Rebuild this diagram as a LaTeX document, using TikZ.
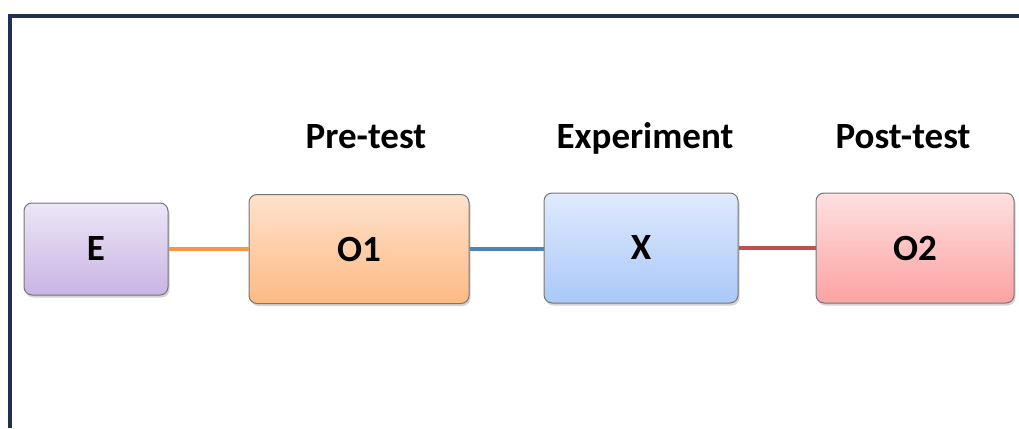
\documentclass[tikz,border=0pt]{standalone}
\usepackage{fontspec}
\setmainfont{Carlito}
\usetikzlibrary{shadows}
\definecolor{frame}{HTML}{1F3050}
\definecolor{edgegray}{HTML}{767676}
\definecolor{corange}{HTML}{F79646}
\definecolor{cblue}{HTML}{4F81BD}
\definecolor{cred}{HTML}{C0504D}
\definecolor{etop}{HTML}{ECE6F6}
\definecolor{ebot}{HTML}{C9B4E4}
\definecolor{otop}{HTML}{FEE2CC}
\definecolor{obot}{HTML}{FDBA84}
\definecolor{xtop}{HTML}{E0EAFD}
\definecolor{xbot}{HTML}{A9C8F8}
\definecolor{rtop}{HTML}{FFE0E0}
\definecolor{rbot}{HTML}{FCA2A2}
\tikzset{
  box/.style={rectangle, rounded corners=8pt, draw=edgegray, line width=1pt,
    font=\fontsize{37}{42}\selectfont\bfseries, text=black,
    drop shadow={opacity=0.35, shadow xshift=1.5pt, shadow yshift=-2.5pt}},
  title/.style={font=\fontsize{37}{42}\selectfont\bfseries, anchor=base, inner sep=0pt},
  link/.style={line width=4.5pt}
}
\begin{document}
\begin{tikzpicture}[x=1pt,y=-1pt]
\useasboundingbox (0,0) rectangle (1019,428);
\draw[frame, line width=4.5pt] (10,428) -- (10,16) -- (1019,16);
\node[box, minimum width=144pt, minimum height=92pt, top color=etop, bottom color=ebot] (E) at (96,249) {E};
\node[box, minimum width=220pt, minimum height=109pt, top color=otop, bottom color=obot] (O1) at (359,249) {O1};
\node[box, minimum width=194pt, minimum height=110pt, top color=xtop, bottom color=xbot] (X) at (641,248) {X};
\node[box, minimum width=198pt, minimum height=110pt, top color=rtop, bottom color=rbot] (O2) at (915,248) {O2};
\draw[link, corange] (E.east) -- (E.east -| O1.west);
\draw[link, cblue] (O1.east) -- (O1.east -| X.west);
\draw[link, cred] (X.east) -- (O2.west);
\node[title] (t1) at (366,148) {Pre-test};
\node[title] (t2) at (645,148) {Experiment};
\node[title] (t3) at (903,148) {Post-test};
\end{tikzpicture}
\end{document}
